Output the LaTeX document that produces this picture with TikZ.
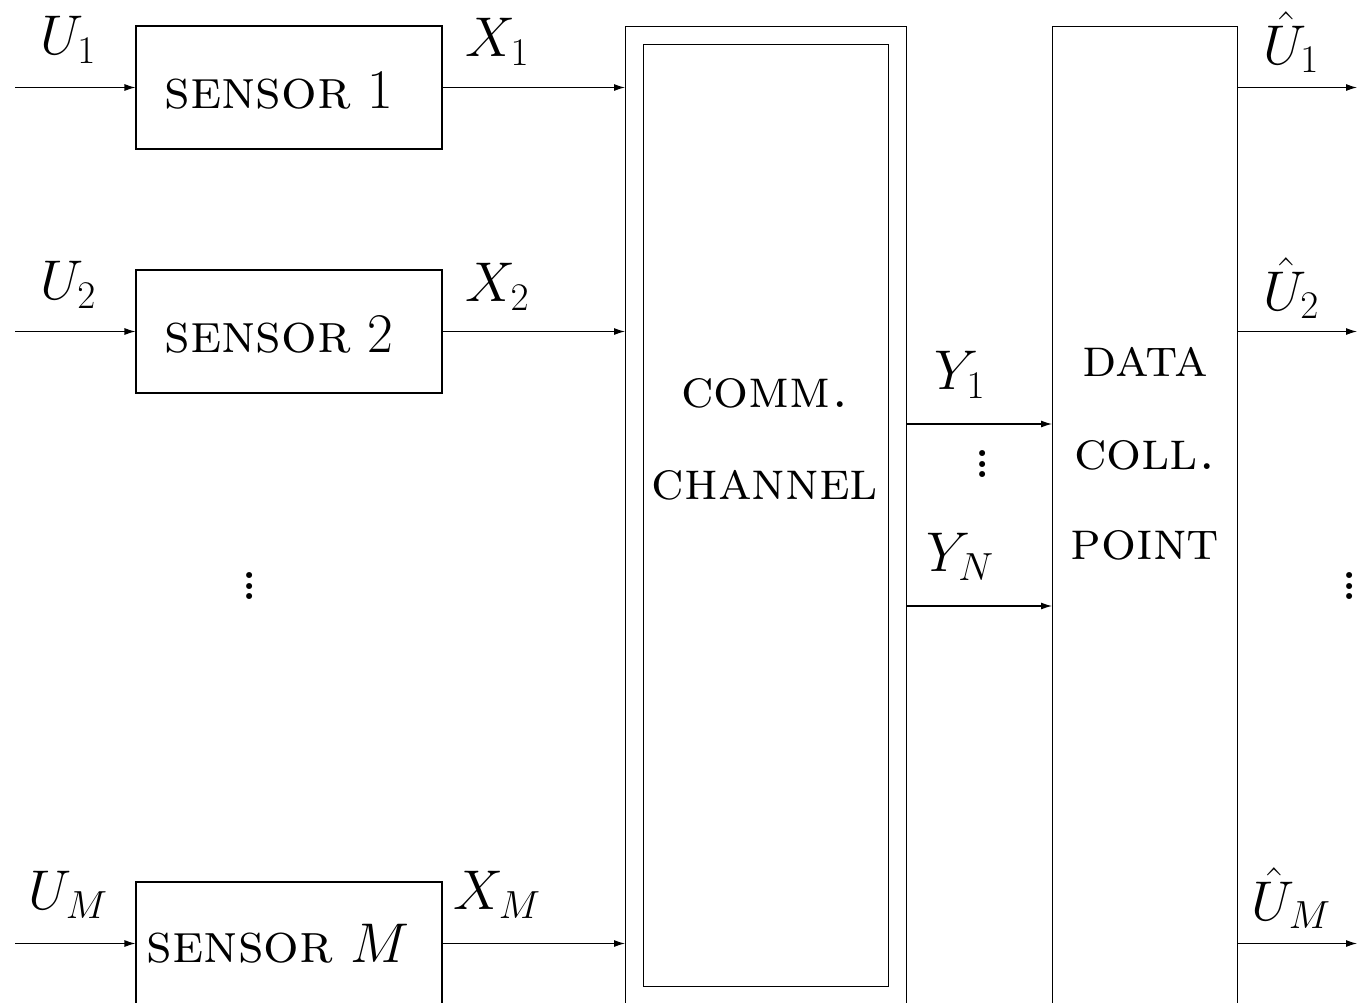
\RequirePackage{fix-cm}
\documentclass[tikz,border=0pt]{standalone}
\usepackage{graphicx}
\usetikzlibrary{arrows.meta}
\begin{document}
\begin{tikzpicture}[x=1pt,y=1pt,
  every node/.style={font=\fontsize{56}{67}\selectfont},
  box/.style={draw, line width=1.1pt, inner sep=0pt},
  arr/.style={line width=1.1pt, -{Latex[length=11pt,width=7pt]}},
  dotsnode/.style={inner sep=0pt}]
\useasboundingbox (0,0) rectangle (1357,-1002);
\clip (0,0) rectangle (1357,-1002);
% sensors
\node[box, minimum width=306pt, minimum height=123pt] (s1) at (289,-87.5) {};
\node[box, minimum width=306pt, minimum height=123pt] (s2) at (289,-331.5) {};
\node[box, minimum width=306pt, minimum height=123pt] (sM) at (289,-943.5) {};
\node (t1) at (279,-90) {\textsc{sensor} 1};
\node (t2) at (279,-334) {\textsc{sensor} 2};
\node (tM) at (278,-944) {\textsc{sensor} $M$};
% channel
\node[box, minimum width=281pt, minimum height=1010pt, anchor=north west] (ch) at (625,-26) {};
\node[box, minimum width=245pt, minimum height=942pt, anchor=north west] (chin) at (643,-44) {};
\node[font=\fontsize{55}{66}\selectfont] (c1) at (765,-393) {\textsc{comm.}};
\node[font=\fontsize{55}{66}\selectfont] (c2) at (765,-485) {\textsc{channel}};
% data collection point
\node[box, minimum width=185pt, minimum height=1010pt, anchor=north west] (dc) at (1052,-26) {};
\node[font=\fontsize{55}{66}\selectfont] (d1) at (1145,-362) {\textsc{data}};
\node[font=\fontsize{55}{66}\selectfont] (d2) at (1145,-455) {\textsc{coll.}};
\node[font=\fontsize{55}{66}\selectfont] (d3) at (1145,-545) {\textsc{point}};
% free ends
\coordinate (i1) at (15,-87.5);
\coordinate (i2) at (15,-331.5);
\coordinate (iM) at (15,-943.5);
\coordinate (o1) at (1357,-87.5);
\coordinate (o2) at (1357,-331.5);
\coordinate (oM) at (1357,-943.5);
\coordinate (y1) at (0,-424);
\coordinate (yN) at (0,-606);
% arrows
\draw[arr] (i1) -- (s1.west);
\draw[arr] (i2) -- (s2.west);
\draw[arr] (iM) -- (sM.west);
\draw[arr] (s1.east) -- (s1.east -| ch.west);
\draw[arr] (s2.east) -- (s2.east -| ch.west);
\draw[arr] (sM.east) -- (sM.east -| ch.west);
\draw[arr] (ch.east |- y1) -- (dc.west |- y1);
\draw[arr] (ch.east |- yN) -- (dc.west |- yN);
\draw[arr] (dc.east |- o1) -- (o1);
\draw[arr] (dc.east |- o2) -- (o2);
\draw[arr] (dc.east |- oM) -- (oM);
% labels
\node (lu1) at (68,-40) {$U_1$};
\node (lu2) at (68,-285) {$U_2$};
\node (luM) at (68,-895) {$U_M$};
\node (lx1) at (497,-42) {$X_1$};
\node (lx2) at (497,-287) {$X_2$};
\node (lxM) at (497,-895) {$X_M$};
\node (lh1) at (1291,-42) {$\hat U_1$};
\node (lh2) at (1291,-288) {$\hat U_2$};
\node (lhM) at (1291,-898) {$\hat U_M$};
\node (ly1) at (960,-375) {$Y_1$};
\node (lyN) at (960,-557) {$Y_N$};
% dots
\node[dotsnode] (v1) at (249.5,-578) {\scalebox{2.7}{\fontsize{27}{30}\selectfont$\vdots$}};
\node[dotsnode] (v2) at (982.5,-456) {\scalebox{2.7}{\fontsize{27}{30}\selectfont$\vdots$}};
\node[dotsnode] (v3) at (1349.5,-578) {\scalebox{2.7}{\fontsize{27}{30}\selectfont$\vdots$}};
\end{tikzpicture}
\end{document}
